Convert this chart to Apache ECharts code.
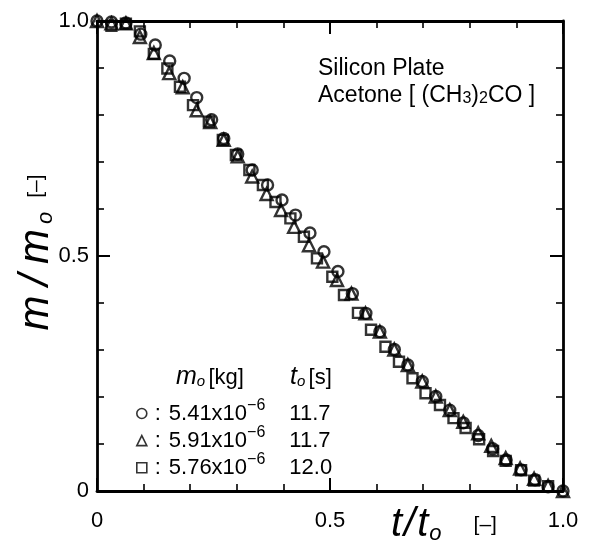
<!DOCTYPE html>
<html><head><meta charset="utf-8">
<script src="https://cdn.jsdelivr.net/npm/echarts@6/dist/echarts.min.js"></script>
<style>html,body{margin:0;padding:0;background:#fff}#c{width:589px;height:541px}</style>
</head><body><div id="c"></div>
<script>
// Data (t/t0, m/m0)
const circleT = [0.0, 0.031, 0.062, 0.094, 0.125, 0.156, 0.187, 0.214, 0.246, 0.272, 0.302, 0.333, 0.366, 0.397, 0.426, 0.457, 0.487, 0.517, 0.548, 0.577, 0.607, 0.638, 0.667, 0.698, 0.727, 0.757, 0.786, 0.818, 0.849, 0.878, 0.910, 0.940, 0.968, 1.0];
const circleM = [1.0, 0.998, 0.996, 0.972, 0.949, 0.915, 0.878, 0.837, 0.790, 0.750, 0.717, 0.683, 0.651, 0.619, 0.587, 0.549, 0.509, 0.467, 0.420, 0.378, 0.339, 0.301, 0.268, 0.233, 0.201, 0.172, 0.145, 0.118, 0.090, 0.066, 0.045, 0.024, 0.009, 0.0];
const triT = [0.0, 0.031, 0.062, 0.092, 0.122, 0.155, 0.184, 0.214, 0.243, 0.272, 0.302, 0.333, 0.364, 0.395, 0.423, 0.455, 0.485, 0.515, 0.546, 0.576, 0.607, 0.638, 0.667, 0.698, 0.727, 0.757, 0.786, 0.818, 0.846, 0.877, 0.908, 0.938, 0.968, 1.0];
const triM = [1.0, 0.995, 0.995, 0.966, 0.932, 0.889, 0.859, 0.810, 0.785, 0.747, 0.712, 0.669, 0.632, 0.598, 0.562, 0.523, 0.488, 0.449, 0.420, 0.378, 0.339, 0.301, 0.268, 0.233, 0.201, 0.172, 0.147, 0.123, 0.096, 0.070, 0.048, 0.026, 0.011, 0.0];
const sqT = [0.031, 0.062, 0.092, 0.122, 0.151, 0.178, 0.206, 0.240, 0.270, 0.298, 0.327, 0.356, 0.383, 0.415, 0.444, 0.472, 0.505, 0.530, 0.560, 0.588, 0.619, 0.648, 0.677, 0.705, 0.736, 0.765, 0.791, 0.820, 0.850, 0.877, 0.910, 0.938, 0.968];
const sqM = [0.990, 0.994, 0.978, 0.930, 0.899, 0.860, 0.821, 0.786, 0.747, 0.715, 0.683, 0.651, 0.615, 0.580, 0.541, 0.495, 0.456, 0.417, 0.379, 0.343, 0.307, 0.275, 0.240, 0.208, 0.183, 0.155, 0.134, 0.110, 0.085, 0.064, 0.044, 0.022, 0.010];

const seriesNames = ['5.41x10^-6', '5.91x10^-6', '5.76x10^-6'];
const massMant = ['5.41x10', '5.91x10', '5.76x10'];
const massExp = ['\u22126', '\u22126', '\u22126'];
const toValues = ['11.7', '11.7', '12.0'];
const xTickLabels = {0: '0', 0.5: '0.5', 1: '1.0'};
const yTickLabels = {0: '0', 0.5: '0.5', 1: '1.0'};

const zip = (a, b) => a.map((v, i) => [v, b[i]]);
const FONT = 'Liberation Sans';

function axisBase(extra) {
  return Object.assign({
    type: 'value', min: 0, max: 1, interval: 0.5,
    axisLine: {show: true, onZero: false, lineStyle: {color: '#000', width: 2.8}},
    axisTick: {show: true, inside: true, length: 13, lineStyle: {color: '#000', width: 2}},
    minorTick: {show: true, splitNumber: 5, length: 7, lineStyle: {color: '#000', width: 1.6}},
    splitLine: {show: false}, minorSplitLine: {show: false}
  }, extra);
}

const bigItalic = (size, pad) => ({fontSize: size, fontFamily: FONT, fontStyle: 'italic', lineHeight: size, padding: [0, pad, 0, pad]});

const chart = echarts.init(document.getElementById('c'), null, {renderer: 'canvas'});
const sym = {color: 'rgba(0,0,0,0)', borderColor: '#000', borderWidth: 2.4};
chart.setOption({
  animation: false,
  backgroundColor: '#fff',
  grid: {left: 97, right: 26, top: 21, bottom: 50},
  xAxis: [
    axisBase({position: 'bottom', axisLabel: {show: true, margin: 19, color: '#000', fontSize: 22, fontFamily: FONT,
      formatter: v => xTickLabels[v] !== undefined ? xTickLabels[v] : ''}}),
    axisBase({position: 'top', axisLabel: {show: false}})
  ],
  yAxis: [
    axisBase({position: 'left', axisLabel: {show: true, margin: 8, color: '#000', fontSize: 22, fontFamily: FONT,
      formatter: v => yTickLabels[v] !== undefined ? yTickLabels[v] : ''}}),
    axisBase({position: 'right', axisLabel: {show: false}})
  ],
  legend: {
    orient: 'vertical', left: 131, top: 392.5, itemWidth: 10, itemHeight: 10, itemGap: -4.9,
    selectedMode: false,
    itemStyle: {color: 'rgba(0,0,0,0)', borderColor: '#000', borderWidth: 1.6},
    data: seriesNames,
    formatter: name => {
      const i = seriesNames.indexOf(name);
      return '{c|:}{v|' + massMant[i] + '}{e|' + massExp[i] + '}{t|' + toValues[i] + '}';
    },
    textStyle: {
      color: '#000', fontFamily: FONT, fontSize: 22, lineHeight: 20,
      rich: {
        c: {fontSize: 22, fontFamily: FONT, width: 12, align: 'center', lineHeight: 20},
        v: {fontSize: 22, fontFamily: FONT, padding: [0, 0, 0, 5], lineHeight: 20},
        e: {fontSize: 16, fontFamily: FONT, lineHeight: 16, padding: [0, 0, 16, 0]},
        t: {fontSize: 22, fontFamily: FONT, lineHeight: 20, padding: [0, 0, 0, 24]}
      }
    }
  },
  graphic: [
    {type: 'text', left: 318, top: 57, style: {text: 'Silicon Plate', font: '23px "Liberation Sans"', fill: '#000'}},
    {type: 'text', left: 318, top: 84, style: {
      text: 'Acetone [ (CH{s|3}){s|2}CO ]', fill: '#000', font: '23px "Liberation Sans"',
      rich: {s: {fontSize: 16, fontFamily: FONT, verticalAlign: 'bottom', lineHeight: 15}}}},
    {type: 'text', left: 176, top: 365, style: {
      text: '{m|m}{s|o} {n|[kg]}', fill: '#000',
      rich: {m: {fontSize: 25, fontFamily: FONT, fontStyle: 'italic', lineHeight: 24},
             s: {fontSize: 15, fontFamily: FONT, fontStyle: 'italic', verticalAlign: 'bottom', lineHeight: 15},
             n: {fontSize: 22, fontFamily: FONT, lineHeight: 24}}}},
    {type: 'text', left: 290, top: 365, style: {
      text: '{m|t}{s|o} {n|[s]}', fill: '#000',
      rich: {m: {fontSize: 25, fontFamily: FONT, fontStyle: 'italic', lineHeight: 24},
             s: {fontSize: 15, fontFamily: FONT, fontStyle: 'italic', verticalAlign: 'bottom', lineHeight: 15},
             n: {fontSize: 22, fontFamily: FONT, lineHeight: 24}}}},
    {type: 'text', left: 390, top: 505, style: {
      text: '{m|t}{m|/}{m|t}{s|o}{n|[\u2013]}', fill: '#000',
      rich: {m: bigItalic(40, 1),
             s: {fontSize: 22, fontFamily: FONT, fontStyle: 'italic', verticalAlign: 'bottom', lineHeight: 26},
             n: {fontSize: 21, fontFamily: FONT, lineHeight: 34, padding: [0, 0, 0, 32]}}}},
    {type: 'text', x: 36, y: 255, rotation: Math.PI / 2, style: {
      text: '{m|m}{m|/}{m|m}{s|o}{n|[\u2013]}', fill: '#000', align: 'center', verticalAlign: 'middle',
      rich: {m: bigItalic(42, 5),
             s: {fontSize: 22, fontFamily: FONT, fontStyle: 'italic', verticalAlign: 'bottom', lineHeight: 20},
             n: {fontSize: 21, fontFamily: FONT, lineHeight: 34, padding: [0, 0, 0, 14]}}}}
  ],
  series: [
    {name: seriesNames[0], type: 'scatter', symbol: 'circle', symbolSize: 11, itemStyle: sym, data: zip(circleT, circleM), z: 3},
    {name: seriesNames[1], type: 'scatter', symbol: 'triangle', symbolSize: 12, itemStyle: sym, data: zip(triT, triM), z: 3},
    {name: seriesNames[2], type: 'scatter', symbol: 'rect', symbolSize: 10, itemStyle: sym, data: zip(sqT, sqM), z: 3}
  ]
});
</script></body></html>
